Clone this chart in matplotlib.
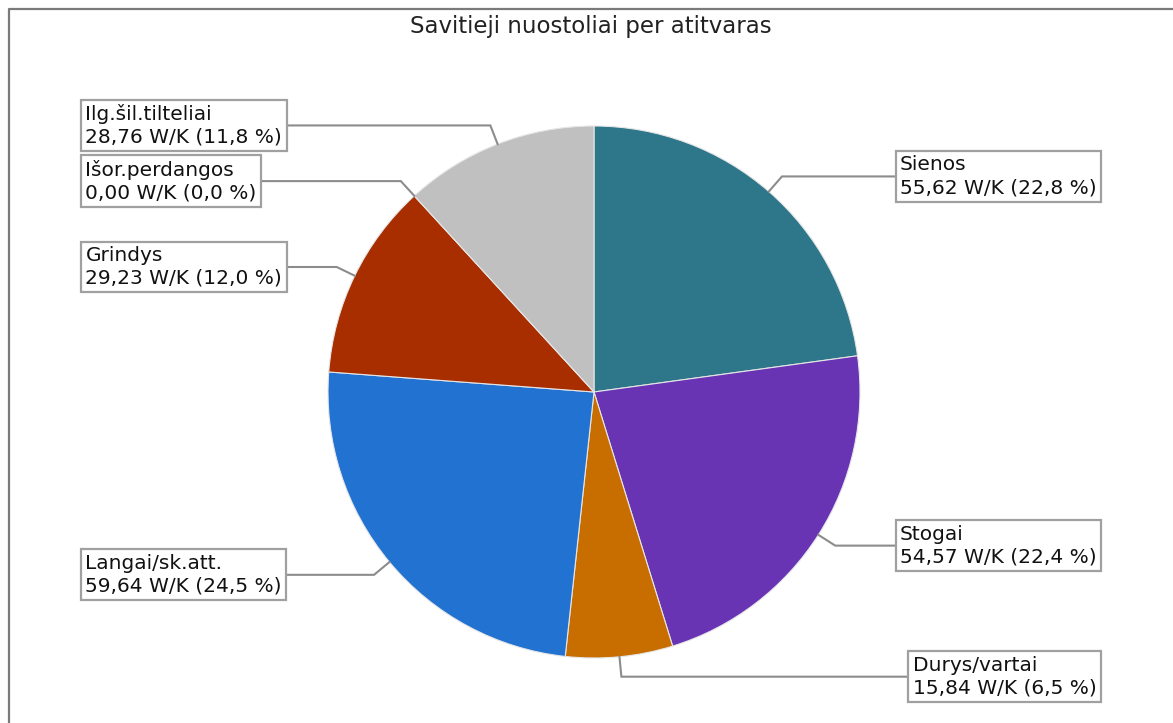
import matplotlib
matplotlib.use("Agg")
import matplotlib.pyplot as plt
import numpy as np
from matplotlib.lines import Line2D

# Heat loss by building envelope element
categories = ["Sienos", "Stogai", "Durys/vartai", "Langai/sk.att.",
              "Grindys", "Išor.perdangos", "Ilg.šil.tilteliai"]
values = [55.62, 54.57, 15.84, 59.64, 29.23, 0.00, 28.76]
percents = [22.8, 22.4, 6.5, 24.5, 12.0, 0.0, 11.8]
colors = ["#2e7689", "#6834b4", "#c86e00", "#2272d2", "#a82e00", "#c0c0c0", "#c0c0c0"]
sides = ["right", "right", "right", "left", "left", "left", "left"]
title = "Savitieji nuostoliai per atitvaras"

W, H = 1173, 723
DPI = 100
fig = plt.figure(figsize=(W / DPI, H / DPI), dpi=DPI)
fig.patch.set_facecolor("white")
ax = fig.add_axes([0, 0, 1, 1])

# pixel layout (y measured from top)
cx, cy_top, R = 594, 392, 266
cy = H - cy_top
elbow_r = 286
left_edge, right_edge = 81, 1101
fs = 14.5
pad = 0.22
pad_px = pad * fs * DPI / 72

wedges, _ = ax.pie(values, colors=colors, startangle=90, counterclock=False,
                   center=(cx, cy), radius=R, frame=True,
                   wedgeprops=dict(edgecolor="#e6e6e6", linewidth=0.8))
ax.set_xlim(0, W)
ax.set_ylim(0, H)
ax.set_aspect("equal")
ax.axis("off")


def fmt(v):
    return f"{v:.2f}".replace(".", ",")


def fmt_pct(p):
    return f"{p:.1f}".replace(".", ",")


for w, name, v, p, side in zip(wedges, categories, values, percents, sides):
    mid = np.deg2rad((w.theta1 + w.theta2) / 2)
    ax_x, ax_y = cx + R * np.cos(mid), cy + R * np.sin(mid)
    ex, ey = cx + elbow_r * np.cos(mid), cy + elbow_r * np.sin(mid)
    label = f"{name}\n{fmt(v)} W/K ({fmt_pct(p)} %)"
    if side == "left":
        tx, ha, end_x = left_edge + pad_px, "left", left_edge + 40
    else:
        tx, ha, end_x = right_edge - pad_px, "right", right_edge - 40
    ax.plot([ax_x, ex, end_x], [ax_y, ey, ey], color="#8c8c8c", lw=1.5,
            zorder=3, solid_joinstyle="miter")
    ax.text(tx, ey, label, ha=ha, va="center", multialignment="left",
            fontsize=fs, family="DejaVu Sans", color="#111111",
            linespacing=1.26, zorder=5,
            bbox=dict(boxstyle=f"square,pad={pad}", fc="white",
                      ec="#a0a0a0", lw=1.6))

ax.text(591, H - 26, title, ha="center", va="center", fontsize=16.5,
        family="DejaVu Sans", color="#222222")

# outer frame (left and top edges)
fx, fy = 8.5 / W, 1 - 8.5 / H
fig.add_artist(Line2D([fx, fx, 1.0], [0.0, fy, fy], transform=fig.transFigure,
                      color="#7a7a7a", lw=1.6))

fig.savefig("out.png", dpi=DPI, facecolor="white")
